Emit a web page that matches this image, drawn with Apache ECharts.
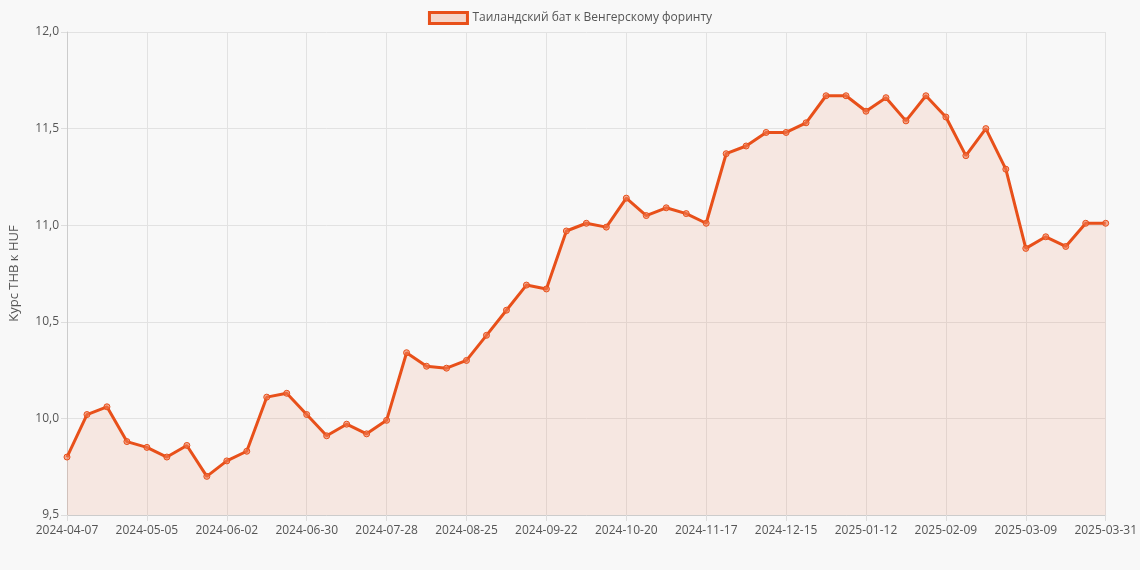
<!DOCTYPE html>
<html>
<head>
<meta charset="utf-8">
<script src="https://cdn.jsdelivr.net/npm/echarts@6/dist/echarts.min.js"></script>
<style>html,body{margin:0;background:#f8f8f8}#chart{width:1140px;height:570px}</style>
</head>
<body>
<div id="chart"></div>
<script>
var dates = ['2024-04-07','2024-04-14','2024-04-21','2024-04-28','2024-05-05','2024-05-12','2024-05-19','2024-05-26',
  '2024-06-02','2024-06-09','2024-06-16','2024-06-23','2024-06-30','2024-07-07','2024-07-14','2024-07-21',
  '2024-07-28','2024-08-04','2024-08-11','2024-08-18','2024-08-25','2024-09-01','2024-09-08','2024-09-15',
  '2024-09-22','2024-09-29','2024-10-06','2024-10-13','2024-10-20','2024-10-27','2024-11-03','2024-11-10',
  '2024-11-17','2024-11-24','2024-12-01','2024-12-08','2024-12-15','2024-12-22','2024-12-29','2025-01-05',
  '2025-01-12','2025-01-19','2025-01-26','2025-02-02','2025-02-09','2025-02-16','2025-02-23','2025-03-02',
  '2025-03-09','2025-03-16','2025-03-23','2025-03-30','2025-03-31'];
var rates = [9.80,10.02,10.06,9.88,9.85,9.80,9.86,9.70,
  9.78,9.83,10.11,10.13,10.02,9.91,9.97,9.92,
  9.99,10.34,10.27,10.26,10.30,10.43,10.56,10.69,
  10.67,10.97,11.01,10.99,11.14,11.05,11.09,11.06,
  11.01,11.37,11.41,11.48,11.48,11.53,11.67,11.67,
  11.59,11.66,11.54,11.67,11.56,11.36,11.50,11.29,
  10.88,10.94,10.89,11.01,11.01];
var seriesName = 'Таиландский бат к Венгерскому форинту';

var chart = echarts.init(document.getElementById('chart'));
chart.setOption({
  backgroundColor: '#f8f8f8',
  textStyle: {fontFamily: 'Open Sans, sans-serif'},
  legend: {
    top: 6, left: 'center', itemWidth: 38, itemHeight: 11,
    textStyle: {color: '#555', fontSize: 12},
    data: [{name: seriesName, icon: 'rect', itemStyle: {color: 'rgba(232,80,20,0.2)', borderColor: '#e8501a', borderWidth: 3}}]
  },
  grid: {left: 62, right: 34, top: 32, bottom: 55},
  xAxis: {
    type: 'category', data: dates, boundaryGap: false,
    axisLine: {lineStyle: {color: '#ccc'}},
    axisTick: {show: true, interval: 3, length: 6, lineStyle: {color: '#ddd'}},
    axisLabel: {interval: 3, color: '#555', fontSize: 12, margin: 10},
    splitLine: {show: true, interval: 3, lineStyle: {color: '#e2e2e2'}}
  },
  yAxis: {
    type: 'value', min: 9.5, max: 12, interval: 0.5,
    name: 'Курс THB к HUF', nameLocation: 'middle', nameGap: 46,
    nameTextStyle: {color: '#555', fontSize: 13},
    axisLine: {show: true, lineStyle: {color: '#ccc'}},
    axisTick: {show: true, length: 6, lineStyle: {color: '#ddd'}},
    axisLabel: {color: '#555', fontSize: 12, formatter: function (v) { return v.toFixed(1).replace('.', ','); }},
    splitLine: {lineStyle: {color: '#e2e2e2'}}
  },
  series: [{
    name: seriesName, type: 'line', data: rates,
    symbol: 'circle', symbolSize: 6,
    itemStyle: {color: 'rgba(240,120,80,0.6)', borderColor: '#e8501a', borderWidth: 1},
    lineStyle: {color: '#e8501a', width: 3},
    areaStyle: {color: 'rgba(240,110,60,0.17)'}
  }]
});
</script>
</body>
</html>
